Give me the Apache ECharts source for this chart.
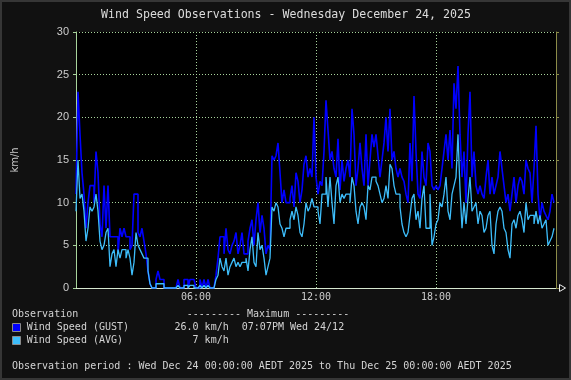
<!DOCTYPE html>
<html><head><meta charset="utf-8">
<script src="https://cdn.jsdelivr.net/npm/echarts@6/dist/echarts.min.js"></script>
<style>html,body{margin:0;padding:0;background:#111;}#c{width:571px;height:380px;}</style>
</head><body><div id="c"></div>
<script>
// Wind gust (km/h), one value per 6 minutes, 00:00 -> 23:54
const gust = [
 11,23,18,13.5,11,7,10,12,12,10,
 16,13.5,7.5,6,12,7,12,6,6,6,
 6,4,7,6,7,6,6,4.5,5,11,
 11,6.5,6,7,5.5,4,2,0.5,0,0,
 1,2,1,1,0,0,0,0,0,0,
 0,1,0,0,1,1,0,1,1,1,
 0,0,1,0,1,0,1,0,0,0,
 1.5,3.5,6,6,4,7,4.5,4,5,5.5,
 6.5,4,5,6.5,4,4,5.5,7,8,5,
 8,10,6.5,8.5,7,4,5,4.5,15.5,15,
 15.5,17,13.5,10,11.5,10,10,10.5,12,9.5,
 13.5,12.5,10,11.5,14.5,15.5,13,14,13,20,
 13,11,12.5,12,16,22,18.5,15,16,14,
 13,17.5,11.5,15,12.5,14,15,13,21,18,
 12,14,17,14,12,18,12,15,18,16.5,
 18,15.5,13,15,17,20,16,21,15,16,
 14,13,14,13,12.5,11,10,17,12.5,22.5,
 16,11,10.5,16,13,12,17,16,12,11.5,
 12,11.5,12,14,16,18,15,18.5,14,24,
 21,26,18,13,16,10,18,23,13,16,
 12,11,12,11,10.5,13,15,11,13,11,
 12,13,16,14,12,10,11,9,11,13,
 10,12,13,12.5,11,15,14,13.5,10,14,
 19,11,8,10,9,8.5,8,9,11,10
];
// Wind average (km/h), same sampling
const avg = [
 9,15,10.5,11,9,5.5,7,9.5,9,9.5,
 11,9,5.5,4.5,5,6.5,7,2.5,4,4.5,
 2.5,4.5,3.5,4.5,4.5,3.5,4.5,3.5,1.5,3,
 6.5,5,4.5,4,3.5,3.5,2,0.5,0,0,
 0.5,0.5,0.5,0.5,0,0,0,0,0,0,
 0,0.3,0,0,0.3,0.3,0,0.3,0.3,0,
 0,0,0.3,0,0.3,0,0.3,0,0,0,
 1,1.5,3.5,2.5,2,3.5,1.5,2.5,3,3.5,
 2.5,3,2.5,3,3,3.5,2,4.5,6,3,
 2.5,6.5,4.5,5,3.5,1.5,2.5,3.5,9.5,9,
 10,9.5,7.5,7,6,7,7,8,9,8,
 9.5,8.5,6.5,6,7.5,10,9,9.5,10.5,9.5,
 9.5,9,7.5,11,11,13,9.5,13,10,7.5,
 12,13,10,11,10.5,11,11,10,13,12,
 9,7.5,9.5,10,9.5,8,12,11.5,13,13,
 12.5,12,11,10,10.5,12,10.5,14.5,14,12,
 11,11,9.5,7.5,6.5,6,6.5,8.5,10.5,11,
 8,9,7,10.5,12,7,7,11,5,6,
 7.5,8,10,9.5,11,13,9,8,11,12,
 13,18,11.5,7,10,7.5,10.5,13,9,9.5,
 10,7.5,9,8.5,6.5,7,8.5,9,5,4,
 7.5,9,9.5,9,7,6.5,4.5,3.5,7.5,8,
 7,8.5,9,8,6.5,10,8,8.5,8.5,7.5,
 9,7.5,8.5,7,7.5,8,5,5.5,6,7
];
const sampleMinutes = 6;
const xTickLabels = {360:'06:00', 720:'12:00', 1080:'18:00'};
const yMin = 0, yMax = 30, yStep = 5;
const titleText = 'Wind Speed Observations - Wednesday December 24, 2025';
const yAxisName = 'km/h';
const seriesNames = ['Wind Speed (GUST)', 'Wind Speed (AVG)'];
const maxValues = ['26.0 km/h', '7 km/h'];
const maxTimes = ['07:07PM Wed 24/12', ''];
const periodText = 'Observation period : Wed Dec 24 00:00:00 AEDT 2025 to Thu Dec 25 00:00:00 AEDT 2025';

const colGust = '#0000ff', colAvg = '#3dbdfa';
const mono = '"DejaVu Sans Mono", monospace';
const txt = '#d4d4d4';

const toPts = arr => arr.map((v, i) => [i * sampleMinutes, v]);

const chart = echarts.init(document.getElementById('c'));
const legendFont = '10px ' + mono;
const graphics = [
  {type:'rect', shape:{x:1,y:1,width:569,height:378}, style:{fill:'none', stroke:'#363636', lineWidth:2}, silent:true},
  {type:'text', x:286, y:15, style:{text:titleText, font:'11.6px ' + mono, fill:'#dcdcdc', textAlign:'center', textVerticalAlign:'middle'}},
  {type:'polygon', shape:{points:[[559.5,284.5],[565.5,288],[559.5,291.5]]}, style:{fill:'#111111', stroke:'#f0f0f0', lineWidth:1}},
  {type:'text', x:12, y:314.7, style:{text:'Observation', font:legendFont, fill:txt, textVerticalAlign:'middle'}},
  {type:'text', x:186.8, y:314.7, style:{text:'--------- Maximum ---------', font:legendFont, fill:txt, textVerticalAlign:'middle'}},
  {type:'rect', shape:{x:12.5,y:323.5,width:8,height:8}, style:{fill:colGust, stroke:'#8a8a8a', lineWidth:1}},
  {type:'rect', shape:{x:12.5,y:336.5,width:8,height:8}, style:{fill:colAvg, stroke:'#8a8a8a', lineWidth:1}},
  {type:'text', x:26.7, y:327.5, style:{text:seriesNames[0], font:legendFont, fill:txt, textVerticalAlign:'middle'}},
  {type:'text', x:26.7, y:340.5, style:{text:seriesNames[1], font:legendFont, fill:txt, textVerticalAlign:'middle'}},
  {type:'text', x:228.7, y:327.5, style:{text:maxValues[0], font:legendFont, fill:txt, textAlign:'right', textVerticalAlign:'middle'}},
  {type:'text', x:228.7, y:340.5, style:{text:maxValues[1], font:legendFont, fill:txt, textAlign:'right', textVerticalAlign:'middle'}},
  {type:'text', x:241.8, y:327.5, style:{text:maxTimes[0], font:legendFont, fill:txt, textVerticalAlign:'middle'}},
  {type:'text', x:12, y:366.5, style:{text:periodText, font:legendFont, fill:txt, textVerticalAlign:'middle'}}
];

chart.setOption({
  backgroundColor:'#111111',
  animation:false,
  grid:{left:76, right:15, top:32, bottom:92, show:true, backgroundColor:'#000000', borderWidth:0},
  xAxis:{
    type:'value', min:0, max:1440, interval:360,
    axisLine:{show:true, lineStyle:{color:'#d6e6cf', width:1}},
    axisTick:{show:false},
    axisLabel:{color:'#cccccc', fontFamily:'DejaVu Sans Mono', fontSize:10, margin:4,
      formatter:v => xTickLabels[v] || ''},
    splitLine:{show:true, lineStyle:{color:'#a8d49c', type:[1,2], width:1}}
  },
  yAxis:[{
    type:'value', min:yMin, max:yMax, interval:yStep,
    name:yAxisName, nameLocation:'middle', nameGap:56, nameRotate:90,
    nameTextStyle:{color:'#cccccc', fontFamily:'DejaVu Sans', fontSize:10},
    axisLine:{show:true, lineStyle:{color:'#a8d49c'}},
    axisTick:{show:true, length:3, lineStyle:{color:'#a8d49c'}},
    axisLabel:{color:'#cccccc', fontFamily:'Liberation Sans', fontSize:11, margin:7},
    splitLine:{show:true, lineStyle:{color:'#a8d49c', type:[1,2], width:1}}
  },{
    type:'value', min:yMin, max:yMax, interval:yStep, position:'right',
    axisLine:{show:true, lineStyle:{color:'#8c8c48'}},
    axisTick:{show:true, length:3, lineStyle:{color:'#8c8c48'}},
    axisLabel:{show:false}, splitLine:{show:false}
  }],
  series:[
    {name:seriesNames[0], type:'line', step:'end', data:toPts(gust), showSymbol:false,
      lineStyle:{color:colGust, width:1.6}, itemStyle:{color:colGust}, z:2},
    {name:seriesNames[1], type:'line', step:'end', data:toPts(avg), showSymbol:false,
      lineStyle:{color:colAvg, width:1.3}, itemStyle:{color:colAvg}, z:3}
  ],
  graphic:graphics
});
</script></body></html>
